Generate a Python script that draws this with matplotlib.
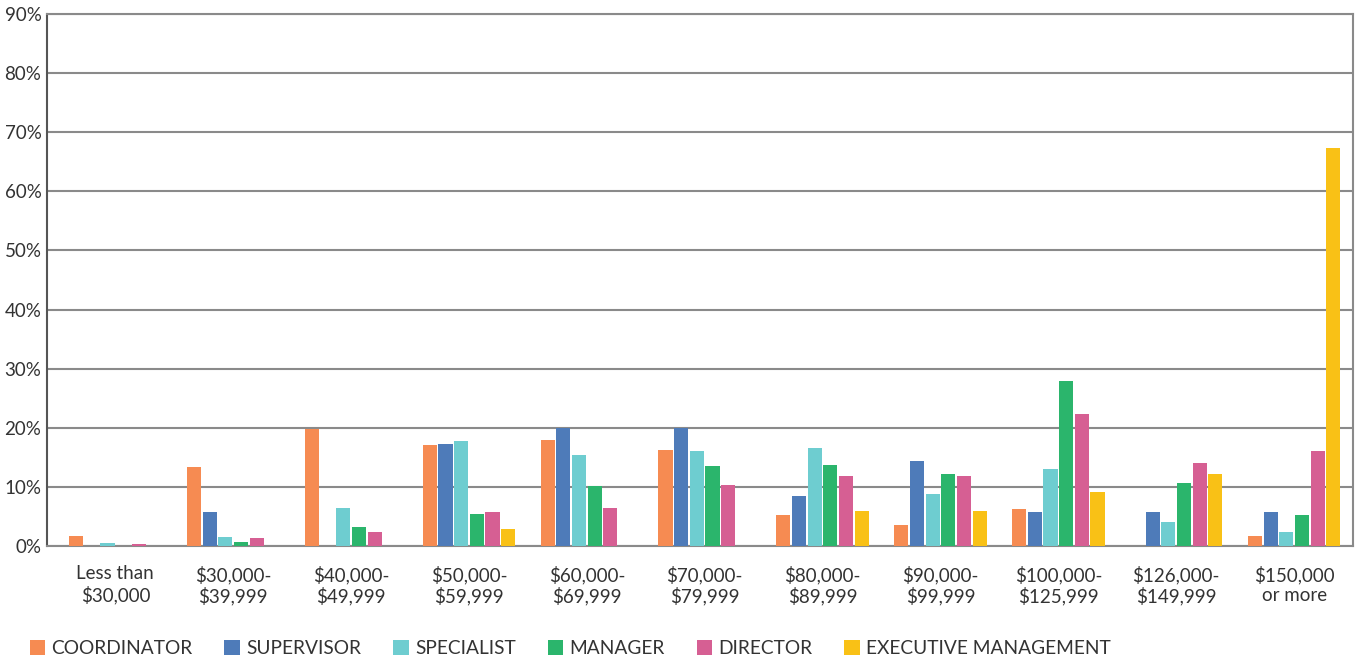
import numpy as np
import matplotlib.pyplot as plt
from matplotlib.patches import Patch

plt.rcParams['font.family'] = ['Lato', 'DejaVu Sans']

salary_ranges = ['Less than\n$30,000', '$30,000-\n$39,999', '$40,000-\n$49,999', '$50,000-\n$59,999',
                 '$60,000-\n$69,999', '$70,000-\n$79,999', '$80,000-\n$89,999', '$90,000-\n$99,999',
                 '$100,000-\n$125,999', '$126,000-\n$149,999', '$150,000\nor more']
roles = ['COORDINATOR', 'SUPERVISOR', 'SPECIALIST', 'MANAGER', 'DIRECTOR', 'EXECUTIVE MANAGEMENT']
colors = ['#F68B52', '#4E7BB9', '#6ECDD0', '#2BB56C', '#D65F93', '#F9C116']

coordinator = [1.7, 13.4, 19.8, 17.1, 18.0, 16.3, 5.3, 3.5, 6.3, 0, 1.7]
supervisor = [0, 5.7, 0, 17.3, 20.0, 20.0, 8.5, 14.3, 5.75, 5.75, 5.75]
specialist = [0.5, 1.6, 6.4, 17.8, 15.4, 16.0, 16.6, 8.8, 13.1, 4.1, 2.3]
manager = [0, 0.6, 3.2, 5.4, 10.2, 13.5, 13.7, 12.2, 27.9, 10.7, 5.3]
director = [0.4, 1.3, 2.3, 5.8, 6.4, 10.4, 11.8, 11.8, 22.4, 14.0, 16.0]
executive = [0, 0, 0, 2.9, 0, 0, 6.0, 6.0, 9.1, 12.2, 67.3]
series = [coordinator, supervisor, specialist, manager, director, executive]

fig = plt.figure(figsize=(13.62, 6.64), dpi=100)
ax = fig.add_axes([0.0345, 0.1777, 0.9589, 0.8013])

x = np.arange(len(salary_ranges))
slot = 0.133
for i, (vals, col) in enumerate(zip(series, colors)):
    ax.bar(x + (i - 2.5) * slot, vals, width=slot * 0.9, color=col,
           edgecolor='none', zorder=3)

ax.set_xlim(-0.58, 10.5)
ax.set_ylim(0, 90)
ax.set_yticks(range(0, 91, 10))
ax.set_yticklabels([f'{v}%' for v in range(0, 91, 10)], fontsize=13.5, color='#333333')
ax.set_xticks(x)
ax.set_xticklabels(salary_ranges, fontsize=13.5, color='#333333', linespacing=1.18)
ax.tick_params(axis='y', length=0, pad=4)
ax.tick_params(axis='x', length=0, pad=14)
ax.grid(axis='y', color='#8a8a8a', linewidth=1.5, zorder=0)
for s in ['left', 'right', 'bottom', 'top']:
    ax.spines[s].set_color('#8a8a8a')
    ax.spines[s].set_linewidth(1.5)
ax.spines['left'].set_color('#555555')

handles = [Patch(facecolor=c, edgecolor='none') for c in colors]
fig.legend(handles, roles, loc='lower left', bbox_to_anchor=(0.009, -0.016), ncol=6,
           frameon=False, fontsize=13.8, handlelength=0.83, handleheight=0.83,
           handletextpad=0.32, columnspacing=1.65, labelcolor='#333333')

fig.savefig('out.png', dpi=100)
